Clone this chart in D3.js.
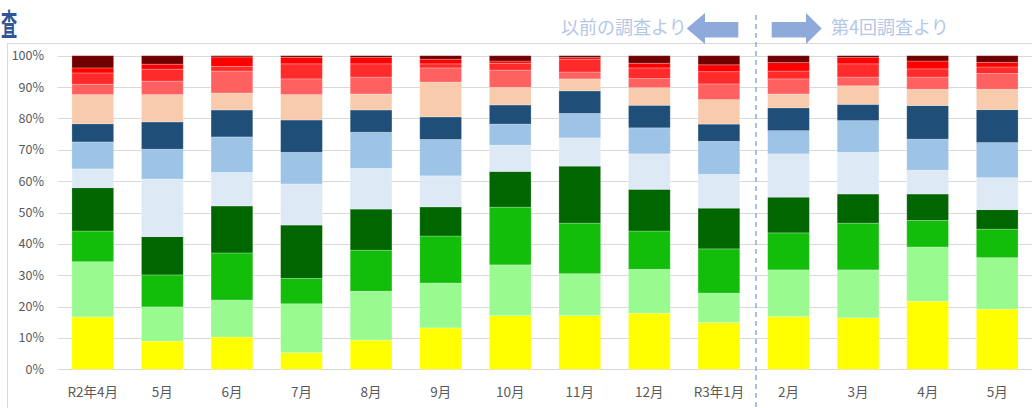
<!DOCTYPE html>
<html>
<head>
<meta charset="utf-8">
<script src="https://cdn.jsdelivr.net/npm/d3@7"></script>
<style>
  html, body { margin: 0; padding: 0; background: #fff; overflow: hidden; }
  svg { display: block; }
  text { font-family: "Noto Sans CJK JP", "Noto Sans", sans-serif; }
</style>
</head>
<body>
<svg id="chart" width="1032" height="408"></svg>
<script>
// ---- data (percent of each survey month) ----
const categories = ["R2年4月","5月","6月","7月","8月","9月","10月","11月","12月","R3年1月","2月","3月","4月","5月"];
const seriesNames = ["s1","s2","s3","s4","s5","s6","s7","s8","s9","s10","s11","s12"];
const s1  = [16.7, 9.0,10.3, 5.3, 9.3,13.2,17.1,17.1,17.9,14.9,16.8,16.4,21.7,19.2];
const s2  = [17.6,10.9,11.8,15.6,15.6,14.3,16.2,13.4,14.0, 9.4,14.9,15.3,17.3,16.4];
const s3  = [ 9.8,10.2,15.0, 8.1,13.1,15.0,18.4,16.1,12.2,14.1,11.8,14.9, 8.5, 9.1];
const s4  = [13.8,12.2,15.0,17.0,13.1, 9.3,11.4,18.2,13.3,13.0,11.4, 9.3, 8.4, 6.2];
const s5  = [ 6.0,18.4,10.7,13.1,13.0, 9.9, 8.4, 9.0,11.3,10.8,13.8,13.3, 7.6,10.2];
const s6  = [ 8.6, 9.5,11.3,10.1,11.5,11.6, 6.7, 7.8, 8.3,10.5, 7.4,10.1, 9.9,11.2];
const s7  = [ 5.8, 8.7, 8.6,10.3, 7.1, 7.2, 6.1, 7.2, 7.2, 5.5, 7.3, 5.2,10.7,10.5];
const s8  = [ 9.3, 8.7, 5.4, 8.1, 5.1,11.1, 5.6, 3.8, 5.6, 7.8, 4.4, 5.9, 5.2, 6.5];
const s9  = [ 3.3, 4.3, 7.0, 5.0, 5.4, 4.5, 5.5, 2.2, 2.9, 5.0, 4.8, 2.8, 3.9, 5.0];
const s10 = [ 3.6, 3.8, 1.5, 4.8, 4.2, 1.3, 2.2, 4.1, 3.4, 3.9, 2.5, 4.2, 2.6, 2.1];
const s11 = [ 1.6, 1.6, 3.0, 2.1, 2.0, 1.5, 0.7, 0.5, 1.5, 2.2, 2.7, 2.0, 2.5, 1.5];
const s12 = [ 3.9, 2.7, 0.4, 0.5, 0.6, 1.1, 1.7, 0.6, 2.4, 2.9, 2.2, 0.6, 1.7, 2.1];
const yTicks = [0,0.1,0.2,0.3,0.4,0.5,0.6,0.7,0.8,0.9,1.0];
const colors = ["#FFFF00","#99FB8F","#13BE0B","#006600","#DDEAF6","#9DC3E6","#1F4E79","#F8CBAD","#FF6161","#FF2B2B","#FF0000","#700000"];
const leftNote = "以前の調査より";
const rightNote = "第4回調査より";
const titleFragment = "査";

const seriesValues = [s1,s2,s3,s4,s5,s6,s7,s8,s9,s10,s11,s12];
const idx = categories.map((c, i) => i);
const rows = categories.map((c, i) => {
  const r = { i: i };
  const total = d3.sum(seriesValues, s => s[i]);
  seriesNames.forEach((n, k) => r[n] = seriesValues[k][i] / total);
  return r;
});

const svg = d3.select("#chart");
const W = 1032, H = 408;

// chart frame
svg.append("rect").attr("x", 7.5).attr("y", 43.5).attr("width", W + 20).attr("height", H)
  .attr("fill", "none").attr("stroke", "#D9D9D9").attr("stroke-width", 1);

// title fragment (kept inside the page, narrowed to its visible footprint)
svg.append("text").attr("transform", "translate(1,35) scale(0.6,1.1)")
  .attr("font-size", 27).attr("font-weight", "bold").attr("fill", "#2F5597")
  .text(titleFragment);

const x = d3.scaleBand().domain(idx).range([58, 1032]).paddingInner(0.4).paddingOuter(0.2);
const y = d3.scaleLinear().domain([0, 1]).range([369.3, 55.7]);

// gridlines
svg.append("g").selectAll("line").data(yTicks).join("line")
  .attr("x1", 58).attr("x2", 1032)
  .attr("y1", d => Math.round(y(d)) + 0.5).attr("y2", d => Math.round(y(d)) + 0.5)
  .attr("stroke", "#D9D9D9").attr("stroke-width", 1);

// y axis labels
const yAxis = d3.axisLeft(y).tickValues(yTicks).tickFormat(d3.format(".0%")).tickSize(0).tickPadding(0);
const gy = svg.append("g").attr("transform", "translate(44,0)").call(yAxis);
gy.select(".domain").remove();
gy.selectAll("text").attr("font-size", 12.5).attr("fill", "#595959")
  .attr("font-family", "'Noto Sans CJK JP', sans-serif");

// stacked bars
const stack = d3.stack().keys(seriesNames)(rows);
svg.append("g").selectAll("g").data(stack).join("g")
  .attr("fill", (d, i) => colors[i])
  .selectAll("rect").data(d => d).join("rect")
  .attr("x", d => x(d.data.i))
  .attr("width", x.bandwidth())
  .attr("y", d => y(d[1]))
  .attr("height", d => y(d[0]) - y(d[1]))
  .attr("stroke", "#fff").attr("stroke-opacity", 0.3).attr("stroke-width", 0.8);

// x axis labels
const xAxis = d3.axisBottom(x).tickFormat(i => categories[i]).tickSize(0).tickPadding(0);
const gx = svg.append("g").attr("transform", "translate(0,387)").call(xAxis);
gx.select(".domain").remove();
gx.selectAll("text").attr("font-size", 13.5).attr("fill", "#595959")
  .attr("font-family", "'Noto Sans CJK JP', sans-serif");

// divider dashed line
svg.append("line").attr("x1", 756).attr("x2", 756).attr("y1", 15).attr("y2", H)
  .attr("stroke", "#8FAADC").attr("stroke-width", 1.5).attr("stroke-dasharray", "5,4");

// notes
svg.append("text").attr("x", 561).attr("y", 34).attr("font-size", 18).attr("fill", "#B4C7E7").text(leftNote);
svg.append("text").attr("x", 831).attr("y", 34).attr("font-size", 18).attr("fill", "#B4C7E7").text(rightNote);

// arrows
const arrowColor = "#8EAADB";
const cy = 28.5;
svg.append("path").attr("fill", arrowColor)
  .attr("d", `M686.7,${cy} L705,13 L705,22 L738.3,22 L738.3,37.5 L705,37.5 L705,44 Z`);
svg.append("path").attr("fill", arrowColor)
  .attr("d", `M821.7,${cy} L806,13 L806,22 L771.7,22 L771.7,37.5 L806,37.5 L806,44 Z`);
</script>
</body>
</html>
